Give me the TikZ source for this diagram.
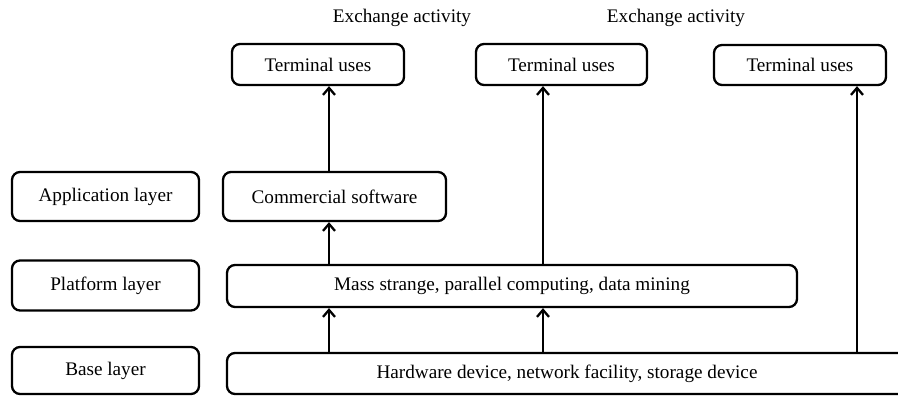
\documentclass[tikz,border=0pt]{standalone}
\usepackage{fontspec}
\setmainfont{Liberation Serif}
\usetikzlibrary{arrows.meta}
\begin{document}
\begin{tikzpicture}[x=1pt,y=-1pt,
  box/.style={draw,line width=2.3pt,rounded corners=8pt,inner sep=0pt,font=\fontsize{19.2}{22}\selectfont},
  lbl/.style={inner sep=0pt,font=\fontsize{19.2}{22}\selectfont},
  arr/.style={line width=2.3pt,-{Straight Barb[length=7pt,width=12pt,line width=2.3pt]}}]
\useasboundingbox (0,0) rectangle (898,396);
\clip (0,0) rectangle (898,396);
% left column
\node[box,minimum width=187pt,minimum height=49pt] (app) at (105.5,196.5) {Application layer};
\node[box,minimum width=187pt,minimum height=50pt] (plat) at (105.5,285.5) {Platform layer};
\node[box,minimum width=187pt,minimum height=47pt] (base) at (105.5,370.5) {Base layer};
% main column
\node[box,minimum width=223pt,minimum height=49pt] (comm) at (334.5,196.5) {Commercial software};
\node[box,minimum width=570pt,minimum height=42pt] (mass) at (512,286) {Mass strange, parallel computing, data mining};
\node[box,minimum width=680pt,minimum height=41pt] (hw) at (567,373.5) {Hardware device, network facility, storage device};
% terminals
\node[box,minimum width=172pt,minimum height=41pt] (t1) at (318,64.5) {Terminal uses};
\node[box,minimum width=171pt,minimum height=41pt] (t2) at (561.5,64.5) {Terminal uses};
\node[box,minimum width=172pt,minimum height=40pt] (t3) at (800,65) {Terminal uses};
% labels
\node[lbl] (ex1) at (402,18) {Exchange activity};
\node[lbl] (ex2) at (676,18) {Exchange activity};
% arrow columns
\coordinate (c1) at (329,0);
\coordinate (c2) at (543,0);
\coordinate (c3) at (857,0);
\draw[arr] (c1 |- hw.north) -- (c1 |- mass.south);
\draw[arr] (c2 |- hw.north) -- (c2 |- mass.south);
\draw[arr] (c1 |- mass.north) -- (c1 |- comm.south);
\draw[arr] (c1 |- comm.north) -- (c1 |- t1.south);
\draw[arr] (c2 |- mass.north) -- (c2 |- t2.south);
\draw[arr] (c3 |- hw.north) -- (c3 |- t3.south);
\end{tikzpicture}
\end{document}
